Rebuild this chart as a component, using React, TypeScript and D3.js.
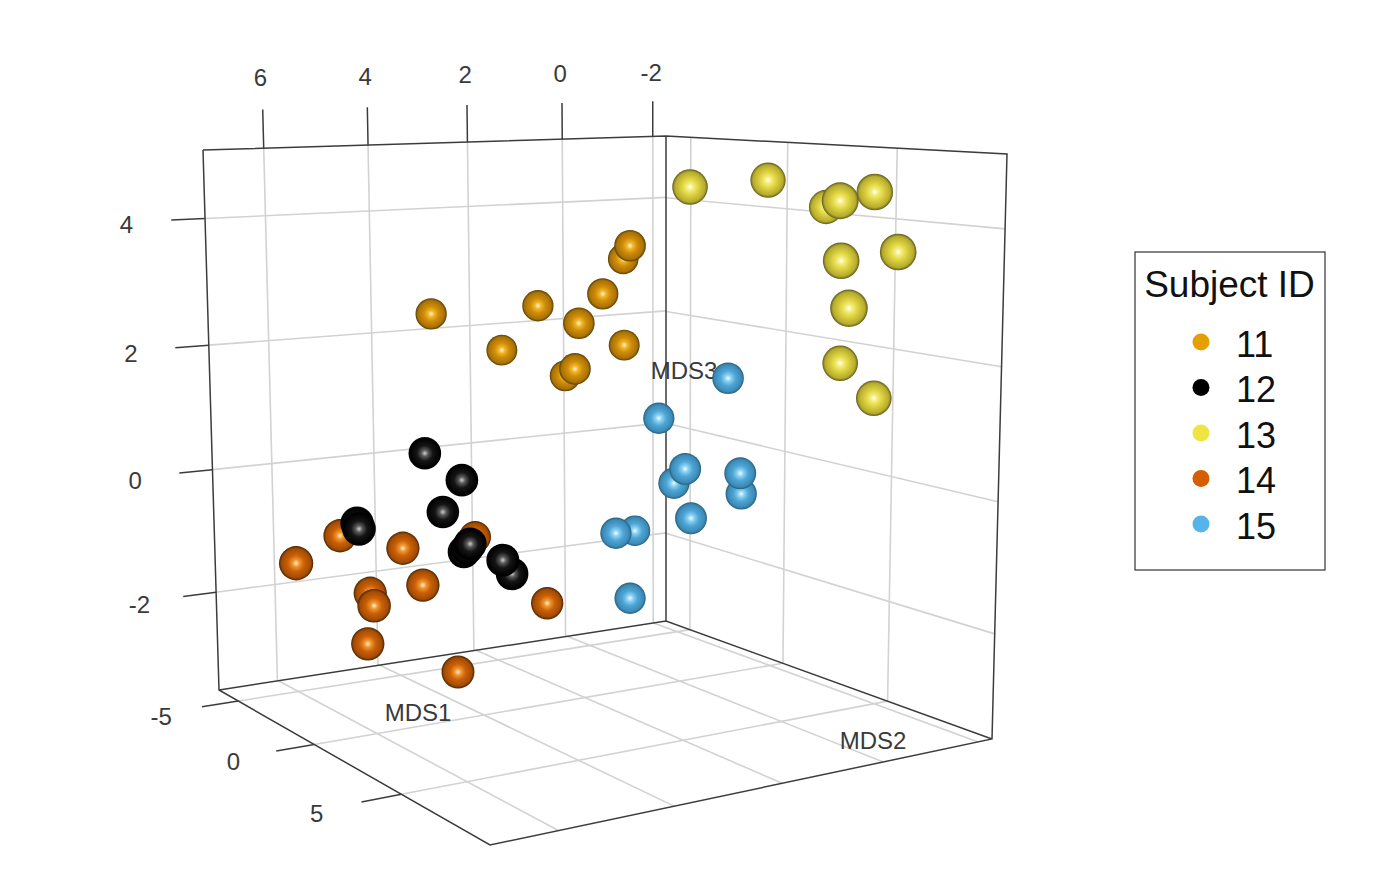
import React from "react";
import * as d3 from "d3";

// subject ids and their colours
const subjects = ["11", "12", "13", "14", "15"];
const subjectColors = ["#E69F00", "#000000", "#F0E442", "#D55E00", "#56B4E9"];
// core highlight, glow, body, shadow, rim of the shaded balls
const ballShades = [
  ["#fff6d8", "#f0b62c", "#d08c06", "#a87206", "#5a3e06"],
  ["#d0d0d0", "#5a5a5a", "#151515", "#030303", "#000000"],
  ["#fffff0", "#f4ec78", "#dcd13e", "#b5ab2e", "#5f5a1c"],
  ["#fff0d0", "#ee9630", "#cc5f06", "#a04c04", "#4c2402"],
  ["#f0fbff", "#8cd2f2", "#4ea6d6", "#3c8ab6", "#27607e"],
];

const mds1Ticks = [6, 4, 2, 0, -2];
const mds2Ticks = [-5, 0, 5];
const mds3Ticks = [4, 2, 0, -2];

// values: mds1 on the top ruler, mds3 on the left ruler,
// depth is mds2 guessed from how big the ball looks
const s11Mds1 = [-1.55, -1.41, -0.99, 0.34, -0.5, 2.53, 1.08, -1.43, -0.42, -0.22];
const s11Mds3 = [3.54, 3.33, 2.77, 2.58, 2.3, 2.45, 1.87, 1.95, 1.57, 1.46];
const s11Depth = [-0.5, -2, -1, -1, -0.5, -1, -1.5, -1.5, -0.5, -1.5];

const s12Mds1 = [2.66, 1.9, 2.29, 4.05, 4.01, 1.79, 1.86, 1.73, 0.87, 1.06];
const s12Mds3 = [0.22, -0.21, -0.72, -0.9, -0.99, -1.3, -1.36, -1.23, -1.71, -1.49];
const s12Depth = [1, 1, 1, 2.2, 2.5, 1, 0.5, 1.5, 1, 1.5];

const s13Mds1 = [-2.78, -4.38, -5.57, -5.86, -6.57, -5.88, -7.05, -6.04, -5.86, -6.55];
const s13Mds3 = [4.48, 4.59, 4.16, 4.26, 4.4, 3.3, 3.44, 2.54, 1.66, 1.1];
const s13Depth = [5.5, 5, 3.5, 7.5, 7, 7, 7, 8.5, 5.5, 5.5];

const s14Mds1 = [5.3, 4.4, 3.11, 3.78, 3.7, 2.7, 3.83, 1.98, 0.15, 1.63];
const s14Mds3 = [-1.54, -1.1, -1.3, -2.02, -2.22, -1.89, -2.83, -3.28, -2.18, -1.12];
const s14Depth = [3.5, 2, 2, 2, 2.5, 2, 2, 1.5, 0.5, 0];

const s15Mds1 = [-3.56, -2.14, -2.68, -2.45, -3.81, -3.83, -2.8, -1.65, -1.26, -1.55];
const s15Mds3 = [1.42, 0.78, -0.03, -0.26, -0.1, -0.43, -0.82, -1.02, -1.06, -2.1];
const s15Depth = [-0.5, -1, 0, -1, 0, -1, 0, -2, -1, -1];

const seriesMds1 = [s11Mds1, s12Mds1, s13Mds1, s14Mds1, s15Mds1];
const seriesMds3 = [s11Mds3, s12Mds3, s13Mds3, s14Mds3, s15Mds3];
const seriesDepth = [s11Depth, s12Depth, s13Depth, s14Depth, s15Depth];

type Pt = [number, number];

// unit square -> quad, gives the perspective of one box face
function faceProjection(p0: Pt, p1: Pt, p2: Pt, p3: Pt) {
  const dx1 = p1[0] - p2[0];
  const dx2 = p3[0] - p2[0];
  const sx = p0[0] - p1[0] + p2[0] - p3[0];
  const dy1 = p1[1] - p2[1];
  const dy2 = p3[1] - p2[1];
  const sy = p0[1] - p1[1] + p2[1] - p3[1];
  const den = dx1 * dy2 - dx2 * dy1;
  const g = (sx * dy2 - dx2 * sy) / den;
  const h = (dx1 * sy - sx * dy1) / den;
  const a = p1[0] - p0[0] + g * p1[0];
  const b = p3[0] - p0[0] + h * p3[0];
  const d = p1[1] - p0[1] + g * p1[1];
  const e = p3[1] - p0[1] + h * p3[1];
  return (u: number, v: number): Pt => {
    const w = g * u + h * v + 1;
    return [(a * u + b * v + p0[0]) / w, (d * u + e * v + p0[1]) / w];
  };
}

const topLeft: Pt = [203, 150];
const topBack: Pt = [666, 136];
const topRight: Pt = [1007, 154];
const floorLeft: Pt = [219, 690];
const floorBack: Pt = [666, 621];
const floorRight: Pt = [992, 739];
const floorFront: Pt = [490, 845];

const leftWall = faceProjection(topLeft, topBack, floorBack, floorLeft);
const rightWall = faceProjection(topBack, topRight, floorRight, floorBack);
const floor = faceProjection(floorLeft, floorBack, floorRight, floorFront);

const mds1Unit = d3.scaleLinear().domain([7.12, -2.3]).range([0, 1]);
const mds2Unit = d3.scaleLinear().domain([-6.38, 9.44]).range([0, 1]);
const mds3Unit = d3.scaleLinear().domain([5.07, -3.62]).range([0, 1]);

// rulers used to read the balls
const rulerX = d3.scaleLinear().domain([6, -2]).range([262, 652]);
const rulerY = d3.scaleLinear().domain([4, -2]).range([217, 592]);
const ballRadius = d3.scaleLinear().domain([-5, 10]).range([14.3, 19.3]);

const legendY = d3.scaleLinear().domain([0, 4]).range([342, 524]);

const balls = subjects
  .flatMap((_, s) =>
    seriesMds1[s].map((v, i) => ({
      s,
      x: rulerX(v),
      y: rulerY(seriesMds3[s][i]),
      depth: seriesDepth[s][i],
    }))
  )
  .sort((a, b) => a.depth - b.depth);

const linePath = d3.line();
const boxPath = [
  linePath([topLeft, topBack, topRight, floorRight, floorFront, floorLeft, topLeft]),
  linePath([topBack, floorBack]),
  linePath([floorLeft, floorBack, floorRight]),
].join("");

const gridColor = "#d2d2d2";
const axisColor = "#3c3c3c";
const textColor = "#3a3a3a";
const font = "'Liberation Sans', Arial, sans-serif";

function Seg({ a, b, stroke, width }: { a: Pt; b: Pt; stroke: string; width: number }) {
  return <line x1={a[0]} y1={a[1]} x2={b[0]} y2={b[1]} stroke={stroke} strokeWidth={width} />;
}

function TickLabel({ at, label, dx = 0, dy = 0 }: { at: Pt; label: number; dx?: number; dy?: number }) {
  return (
    <text x={at[0] + dx} y={at[1] + 8.5 + dy} textAnchor="middle" fontSize={24} fill={textColor}>
      {label}
    </text>
  );
}

export default function App() {
  return (
    <svg
      width={1386}
      height={892}
      fontFamily={font}
      style={{ position: "absolute", left: 0, top: 0, background: "#fff" }}
    >
      <defs>
        {ballShades.map((shade, i) => (
          <radialGradient id={`ball-${i}`} key={i} cx="50%" cy="50%" r="50%">
            <stop offset="0%" stopColor={shade[0]} />
            <stop offset="20%" stopColor={shade[1]} />
            <stop offset="48%" stopColor={shade[2]} />
            <stop offset="85%" stopColor={shade[3]} />
            <stop offset="100%" stopColor={shade[4]} />
          </radialGradient>
        ))}
      </defs>

      {/* grid on the two back walls and the floor */}
      <g>
        {mds1Ticks.map((t) => (
          <g key={t}>
            <Seg a={leftWall(mds1Unit(t), 0)} b={leftWall(mds1Unit(t), 1)} stroke={gridColor} width={1.6} />
            <Seg a={floor(mds1Unit(t), 0)} b={floor(mds1Unit(t), 1)} stroke={gridColor} width={1.6} />
          </g>
        ))}
        {mds2Ticks.map((t) => (
          <g key={t}>
            <Seg a={rightWall(mds2Unit(t), 0)} b={rightWall(mds2Unit(t), 1)} stroke={gridColor} width={1.6} />
            <Seg a={floor(0, mds2Unit(t))} b={floor(1, mds2Unit(t))} stroke={gridColor} width={1.6} />
          </g>
        ))}
        {mds3Ticks.map((t) => (
          <g key={t}>
            <Seg a={leftWall(0, mds3Unit(t))} b={leftWall(1, mds3Unit(t))} stroke={gridColor} width={1.6} />
            <Seg a={rightWall(0, mds3Unit(t))} b={rightWall(1, mds3Unit(t))} stroke={gridColor} width={1.6} />
          </g>
        ))}
      </g>

      <path d={boxPath} fill="none" stroke={axisColor} strokeWidth={1.5} />

      {/* tick marks */}
      {mds1Ticks.map((t) => (
        <g key={t}>
          <Seg a={leftWall(mds1Unit(t), 0)} b={leftWall(mds1Unit(t), -0.07)} stroke={axisColor} width={1.5} />
          <TickLabel at={leftWall(mds1Unit(t), -0.13)} label={t} dx={-1.5} dy={1.5} />
        </g>
      ))}
      {mds2Ticks.map((t) => (
        <g key={t}>
          <Seg a={floor(0, mds2Unit(t))} b={floor(-0.07, mds2Unit(t))} stroke={axisColor} width={1.5} />
          <TickLabel at={floor(-0.147, mds2Unit(t))} label={t} dy={3} />
        </g>
      ))}
      {mds3Ticks.map((t) => (
        <g key={t}>
          <Seg a={leftWall(0, mds3Unit(t))} b={leftWall(-0.065, mds3Unit(t))} stroke={axisColor} width={1.5} />
          <TickLabel at={leftWall(-0.15, mds3Unit(t))} label={t} dy={2.5} />
        </g>
      ))}

      <g fontSize={24} fill={textColor} textAnchor="middle">
        <text x={418} y={721}>MDS1</text>
        <text x={873} y={749}>MDS2</text>
        <text x={684} y={379}>MDS3</text>
      </g>

      {balls.map((b, i) => (
        <circle key={i} cx={b.x} cy={b.y} r={ballRadius(b.depth)} fill={`url(#ball-${b.s})`} />
      ))}

      {/* legend */}
      <rect x={1135} y={252} width={190} height={318} fill="#fff" stroke="#333" strokeWidth={1.2} />
      <text x={1229.5} y={297} textAnchor="middle" fontSize={37} fill="#111">
        Subject ID
      </text>
      {subjects.map((s, i) => (
        <g key={s}>
          <circle cx={1201} cy={legendY(i)} r={8.5} fill={subjectColors[i]} />
          <text x={1236} y={legendY(i) + 14.6} fontSize={36} fill="#111">
            {s}
          </text>
        </g>
      ))}
    </svg>
  );
}
